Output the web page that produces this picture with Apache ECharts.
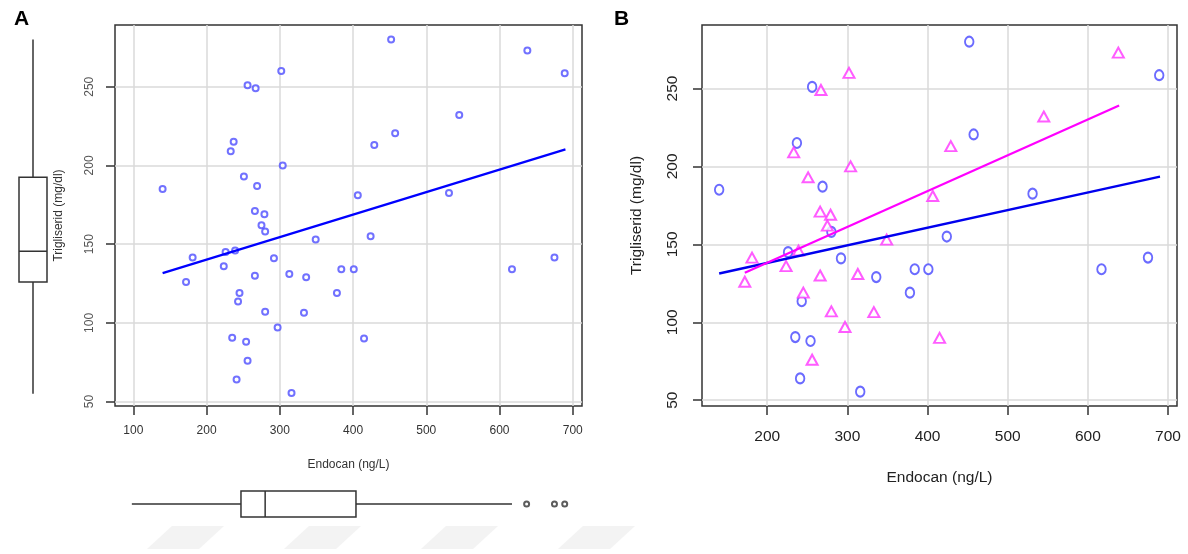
<!DOCTYPE html>
<html>
<head>
<meta charset="utf-8">
<script src="https://cdn.jsdelivr.net/npm/echarts@6/dist/echarts.min.js"></script>
<style>
  html, body { margin: 0; padding: 0; background: #fff; }
  #chart { width: 1188px; height: 554px; }
</style>
</head>
<body>
<div id="chart"></div>
<script>
// group 1 (o, blue)
var endocanG1 = [256, 237, 269, 140, 280, 226, 292, 384, 336, 378, 243, 235, 254, 241, 316, 452, 689, 457.5, 531, 424, 401, 617, 675];
var trigG1    = [251, 215, 187, 185, 158, 145, 141, 134, 129, 119, 113.5, 90.5, 88, 64, 55.5, 280, 258.5, 220.5, 182.5, 155, 134, 134, 141.5];
// group 2 (triangle, magenta)
var endocanG2 = [302, 267, 233, 304, 251, 266, 279, 275, 349, 239, 181, 223.5, 313, 266, 172, 245, 280, 333, 297, 256, 638, 545, 429, 406.5, 415];
var trigG2    = [260, 249, 209, 200, 193, 171, 169, 162, 153, 146, 141.5, 136, 131, 130, 126, 119, 107, 106.5, 97, 76, 273, 232, 213, 181, 90];

var xTicksA = [100, 200, 300, 400, 500, 600, 700];
var xTicksB = [200, 300, 400, 500, 600, 700];
var yTicks  = [50, 100, 150, 200, 250];

// fitted lines (end points)
var fitAll = [[140, 131.6], [690, 210.2]];
var fitG1  = [[140, 131.3], [690, 193.4]];
var fitG2  = [[172, 131.7], [639, 239.1]];

// boxplots: min, q1, median, q3, max
var endocanBox = [98, 247, 280, 404, 617];
var endocanOut = [637, 675, 689];
var trigBox    = [55, 126, 145.5, 192.5, 280];

var FONT = '"Liberation Sans", Arial, sans-serif';

function zip(xs, ys) {
  var out = [];
  for (var i = 0; i < xs.length; i++) out.push([xs[i], ys[i]]);
  return out;
}
var allPts = zip(endocanG1, trigG1).concat(zip(endocanG2, trigG2));

var chart = echarts.init(document.getElementById('chart'));

var gridLine = { show: true, lineStyle: { color: '#dadada', width: 1.5 } };
var tickStyle = { show: true, length: 9, lineStyle: { color: '#333', width: 1.5 } };

function hidden(idx, min, max) {
  return { gridIndex: idx, type: 'value', min: min, max: max, show: false };
}

// box drawn from the axes; horizontal = true for the endocan one
function boxRender(horizontal) {
  return function (params, api) {
    var v = [api.value(0), api.value(1), api.value(2), api.value(3), api.value(4)];
    var P = function (val, c) { return horizontal ? api.coord([val, c]) : api.coord([c, val]); };
    var st = { stroke: '#333', lineWidth: 1.5, fill: 'none' };
    var a = P(v[1], 0), b = P(v[3], 1);
    var children = [
      { type: 'line', shape: { x1: P(v[0], 0.5)[0], y1: P(v[0], 0.5)[1], x2: P(v[1], 0.5)[0], y2: P(v[1], 0.5)[1] }, style: st },
      { type: 'line', shape: { x1: P(v[3], 0.5)[0], y1: P(v[3], 0.5)[1], x2: P(v[4], 0.5)[0], y2: P(v[4], 0.5)[1] }, style: st },
      { type: 'rect', shape: { x: Math.min(a[0], b[0]), y: Math.min(a[1], b[1]), width: Math.abs(b[0] - a[0]), height: Math.abs(b[1] - a[1]) }, style: { stroke: '#333', lineWidth: 1.5, fill: '#fff' } },
      { type: 'line', shape: { x1: P(v[2], 0)[0], y1: P(v[2], 0)[1], x2: P(v[2], 1)[0], y2: P(v[2], 1)[1] }, style: st }
    ];
    return { type: 'group', children: children };
  };
}

// faint watermark stripes at the bottom
var stripes = [];
[147, 284, 421, 558].forEach(function (x0) {
  stripes.push({
    type: 'polygon', silent: true, z: -10,
    shape: { points: [[x0, 549], [x0 + 52, 549], [x0 + 77, 526], [x0 + 25, 526]] },
    style: { fill: '#f3f3f3' }
  });
});

var option = {
  animation: false,
  backgroundColor: '#fff',
  textStyle: { fontFamily: FONT },
  title: [
    { text: 'A', left: 9, top: 4, textStyle: { fontSize: 21, fontWeight: 'bold', color: '#000', fontFamily: FONT } },
    { text: 'B', left: 609, top: 4, textStyle: { fontSize: 21, fontWeight: 'bold', color: '#000', fontFamily: FONT } }
  ],
  graphic: stripes,
  grid: [
    { left: 115, top: 25, width: 467, height: 381, show: true, borderColor: '#333', borderWidth: 1.5, backgroundColor: '#fff' },
    { left: 19, top: 25, width: 28, height: 381 },
    { left: 115, top: 491, width: 467, height: 26 },
    { left: 702, top: 25, width: 475, height: 381, show: true, borderColor: '#333', borderWidth: 1.5, backgroundColor: '#fff' }
  ],
  xAxis: [
    {
      gridIndex: 0, type: 'value', min: 75, max: 712.6,
      name: 'Endocan (ng/L)', nameLocation: 'middle', nameGap: 53,
      nameTextStyle: { fontSize: 12, color: '#333', fontFamily: FONT },
      axisLine: { show: false },
      axisTick: Object.assign({ customValues: xTicksA }, tickStyle),
      axisLabel: { customValues: xTicksA, margin: 19, fontSize: 12, color: '#333', fontFamily: FONT },
      splitLine: gridLine
    },
    hidden(1, 0, 1),
    hidden(2, 75, 712.6),
    {
      gridIndex: 3, type: 'value', min: 118.6, max: 711.2,
      name: 'Endocan (ng/L)', nameLocation: 'middle', nameGap: 64,
      nameTextStyle: { fontSize: 15.5, color: '#222', fontFamily: FONT },
      axisLine: { show: false },
      axisTick: Object.assign({ customValues: xTicksB }, tickStyle),
      axisLabel: { customValues: xTicksB, margin: 23, fontSize: 15.5, color: '#222', fontFamily: FONT },
      splitLine: gridLine
    }
  ],
  yAxis: [
    {
      gridIndex: 0, type: 'value', min: 47.2, max: 289.2,
      name: 'Trigliserid (mg/dl)', nameLocation: 'middle', nameGap: 50,
      nameTextStyle: { fontSize: 12, color: '#333', fontFamily: FONT },
      axisLine: { show: false },
      axisTick: Object.assign({ customValues: yTicks }, tickStyle),
      axisLabel: { customValues: yTicks, rotate: 90, margin: 19, fontSize: 12, color: '#555', fontFamily: FONT },
      splitLine: gridLine
    },
    hidden(1, 47.2, 289.2),
    hidden(2, 0, 1),
    {
      gridIndex: 3, type: 'value', min: 46.3, max: 290.7,
      name: 'Trigliserid (mg/dl)', nameLocation: 'middle', nameGap: 57,
      nameTextStyle: { fontSize: 15.5, color: '#222', fontFamily: FONT },
      axisLine: { show: false },
      axisTick: Object.assign({ customValues: yTicks }, tickStyle),
      axisLabel: { customValues: yTicks, rotate: 90, margin: 21, fontSize: 15.5, color: '#222', fontFamily: FONT },
      splitLine: gridLine
    }
  ],
  series: [
    {
      type: 'scatter', xAxisIndex: 0, yAxisIndex: 0, data: allPts,
      symbol: 'emptyCircle', symbolSize: 6,
      itemStyle: { color: '#4d4dff', borderWidth: 1.5 }
    },
    {
      type: 'line', xAxisIndex: 0, yAxisIndex: 0, data: fitAll, symbol: 'none',
      lineStyle: { color: '#0000ff', width: 2.2 }
    },
    {
      type: 'custom', xAxisIndex: 1, yAxisIndex: 1, renderItem: boxRender(false),
      data: [trigBox]
    },
    {
      type: 'custom', xAxisIndex: 2, yAxisIndex: 2, renderItem: boxRender(true),
      data: [endocanBox]
    },
    {
      type: 'scatter', xAxisIndex: 2, yAxisIndex: 2,
      data: endocanOut.map(function (v) { return [v, 0.5]; }),
      symbol: 'emptyCircle', symbolSize: 5,
      itemStyle: { color: '#333', borderWidth: 1.3 }
    },
    {
      type: 'scatter', xAxisIndex: 3, yAxisIndex: 3, data: zip(endocanG1, trigG1),
      symbol: 'emptyCircle', symbolSize: [8.5, 10],
      itemStyle: { color: '#4646ff', borderWidth: 1.5 }
    },
    {
      type: 'scatter', xAxisIndex: 3, yAxisIndex: 3, data: zip(endocanG2, trigG2),
      symbol: 'emptyTriangle', symbolSize: [11, 10],
      itemStyle: { color: '#ff33ff', borderWidth: 1.5 }
    },
    {
      type: 'line', xAxisIndex: 3, yAxisIndex: 3, data: fitG1, symbol: 'none',
      lineStyle: { color: '#0000ee', width: 2.4 }
    },
    {
      type: 'line', xAxisIndex: 3, yAxisIndex: 3, data: fitG2, symbol: 'none',
      lineStyle: { color: '#ff00ff', width: 2.2 }
    }
  ]
};

chart.setOption(option);
</script>
</body>
</html>
